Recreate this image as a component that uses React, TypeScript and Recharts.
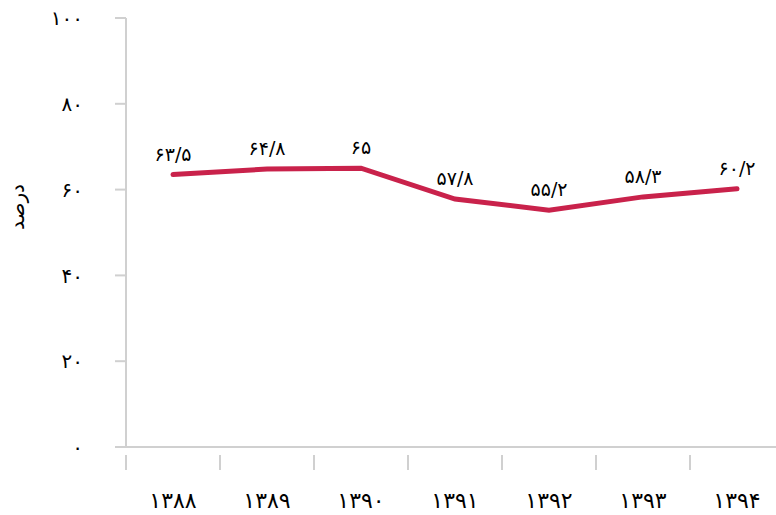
import { LabelList, Line, LineChart, XAxis, YAxis } from 'recharts'

const YEARS = ['۱۳۸۸', '۱۳۸۹', '۱۳۹۰', '۱۳۹۱', '۱۳۹۲', '۱۳۹۳', '۱۳۹۴']
const SHARE = [63.5, 64.8, 65, 57.8, 55.2, 58.3, 60.2]
const Y_TICKS = [0, 20, 40, 60, 80, 100]

const LINE_COLOR = '#c9224b'
const AXIS_COLOR = '#d0d0d0'
const FONT = '"DejaVu Sans", sans-serif'

const data = YEARS.map((year, i) => ({ year, value: SHARE[i] }))

function toPersian(value: number | string): string {
  const digits = '۰۱۲۳۴۵۶۷۸۹'
  return String(value)
    .replace('.', '/')
    .replace(/[0-9]/g, (d) => digits[Number(d)])
}

function YearTick(props: any) {
  const { x, y, payload } = props
  const offset = payload?.offset ?? 0
  return (
    <g>
      <line
        x1={x - offset}
        x2={x - offset}
        y1={y}
        y2={y + 15}
        stroke={AXIS_COLOR}
        strokeWidth={2}
      />
      <text
        x={x}
        y={y + 53}
        textAnchor="middle"
        fontSize={22}
        fontFamily={FONT}
        fill="#000"
      >
        {payload.value}
      </text>
    </g>
  )
}

export default function App() {
  return (
    <div
      style={{
        position: 'absolute',
        left: 0,
        top: 0,
        width: 776,
        height: 515,
        overflow: 'hidden',
        background: '#fff',
      }}
    >
      <LineChart
        width={800}
        height={515}
        data={data}
        margin={{ top: 18, right: 16, left: 0, bottom: 0 }}
      >
        <XAxis
          dataKey="year"
          scale="band"
          height={68}
          axisLine={{ stroke: AXIS_COLOR, strokeWidth: 2 }}
          tickLine={false}
          tick={<YearTick />}
          interval={0}
        />
        <YAxis
          width={126}
          domain={[0, 100]}
          ticks={Y_TICKS}
          interval={0}
          tickSize={11}
          tickMargin={32}
          axisLine={{ stroke: AXIS_COLOR, strokeWidth: 2 }}
          tickLine={{ stroke: AXIS_COLOR, strokeWidth: 2 }}
          tickFormatter={(v) => toPersian(v)}
          tick={{ fontSize: 20, fontFamily: FONT, fill: '#000' }}
          label={{
            value: 'درصد',
            content: () => (
              <text
                transform="translate(24,207) rotate(-90)"
                textAnchor="middle"
                fontSize={20}
                fontFamily={FONT}
                fill="#000"
              >
                درصد
              </text>
            ),
          }}
        />
        <Line
          dataKey="value"
          stroke={LINE_COLOR}
          strokeWidth={5}
          strokeLinecap="round"
          dot={false}
          activeDot={false}
          isAnimationActive={false}
        >
          <LabelList
            dataKey="value"
            position="top"
            offset={14}
            formatter={(v: any) => toPersian(v)}
            style={{ fontSize: 19, fontFamily: FONT, fill: '#000' }}
          />
        </Line>
      </LineChart>
    </div>
  )
}
